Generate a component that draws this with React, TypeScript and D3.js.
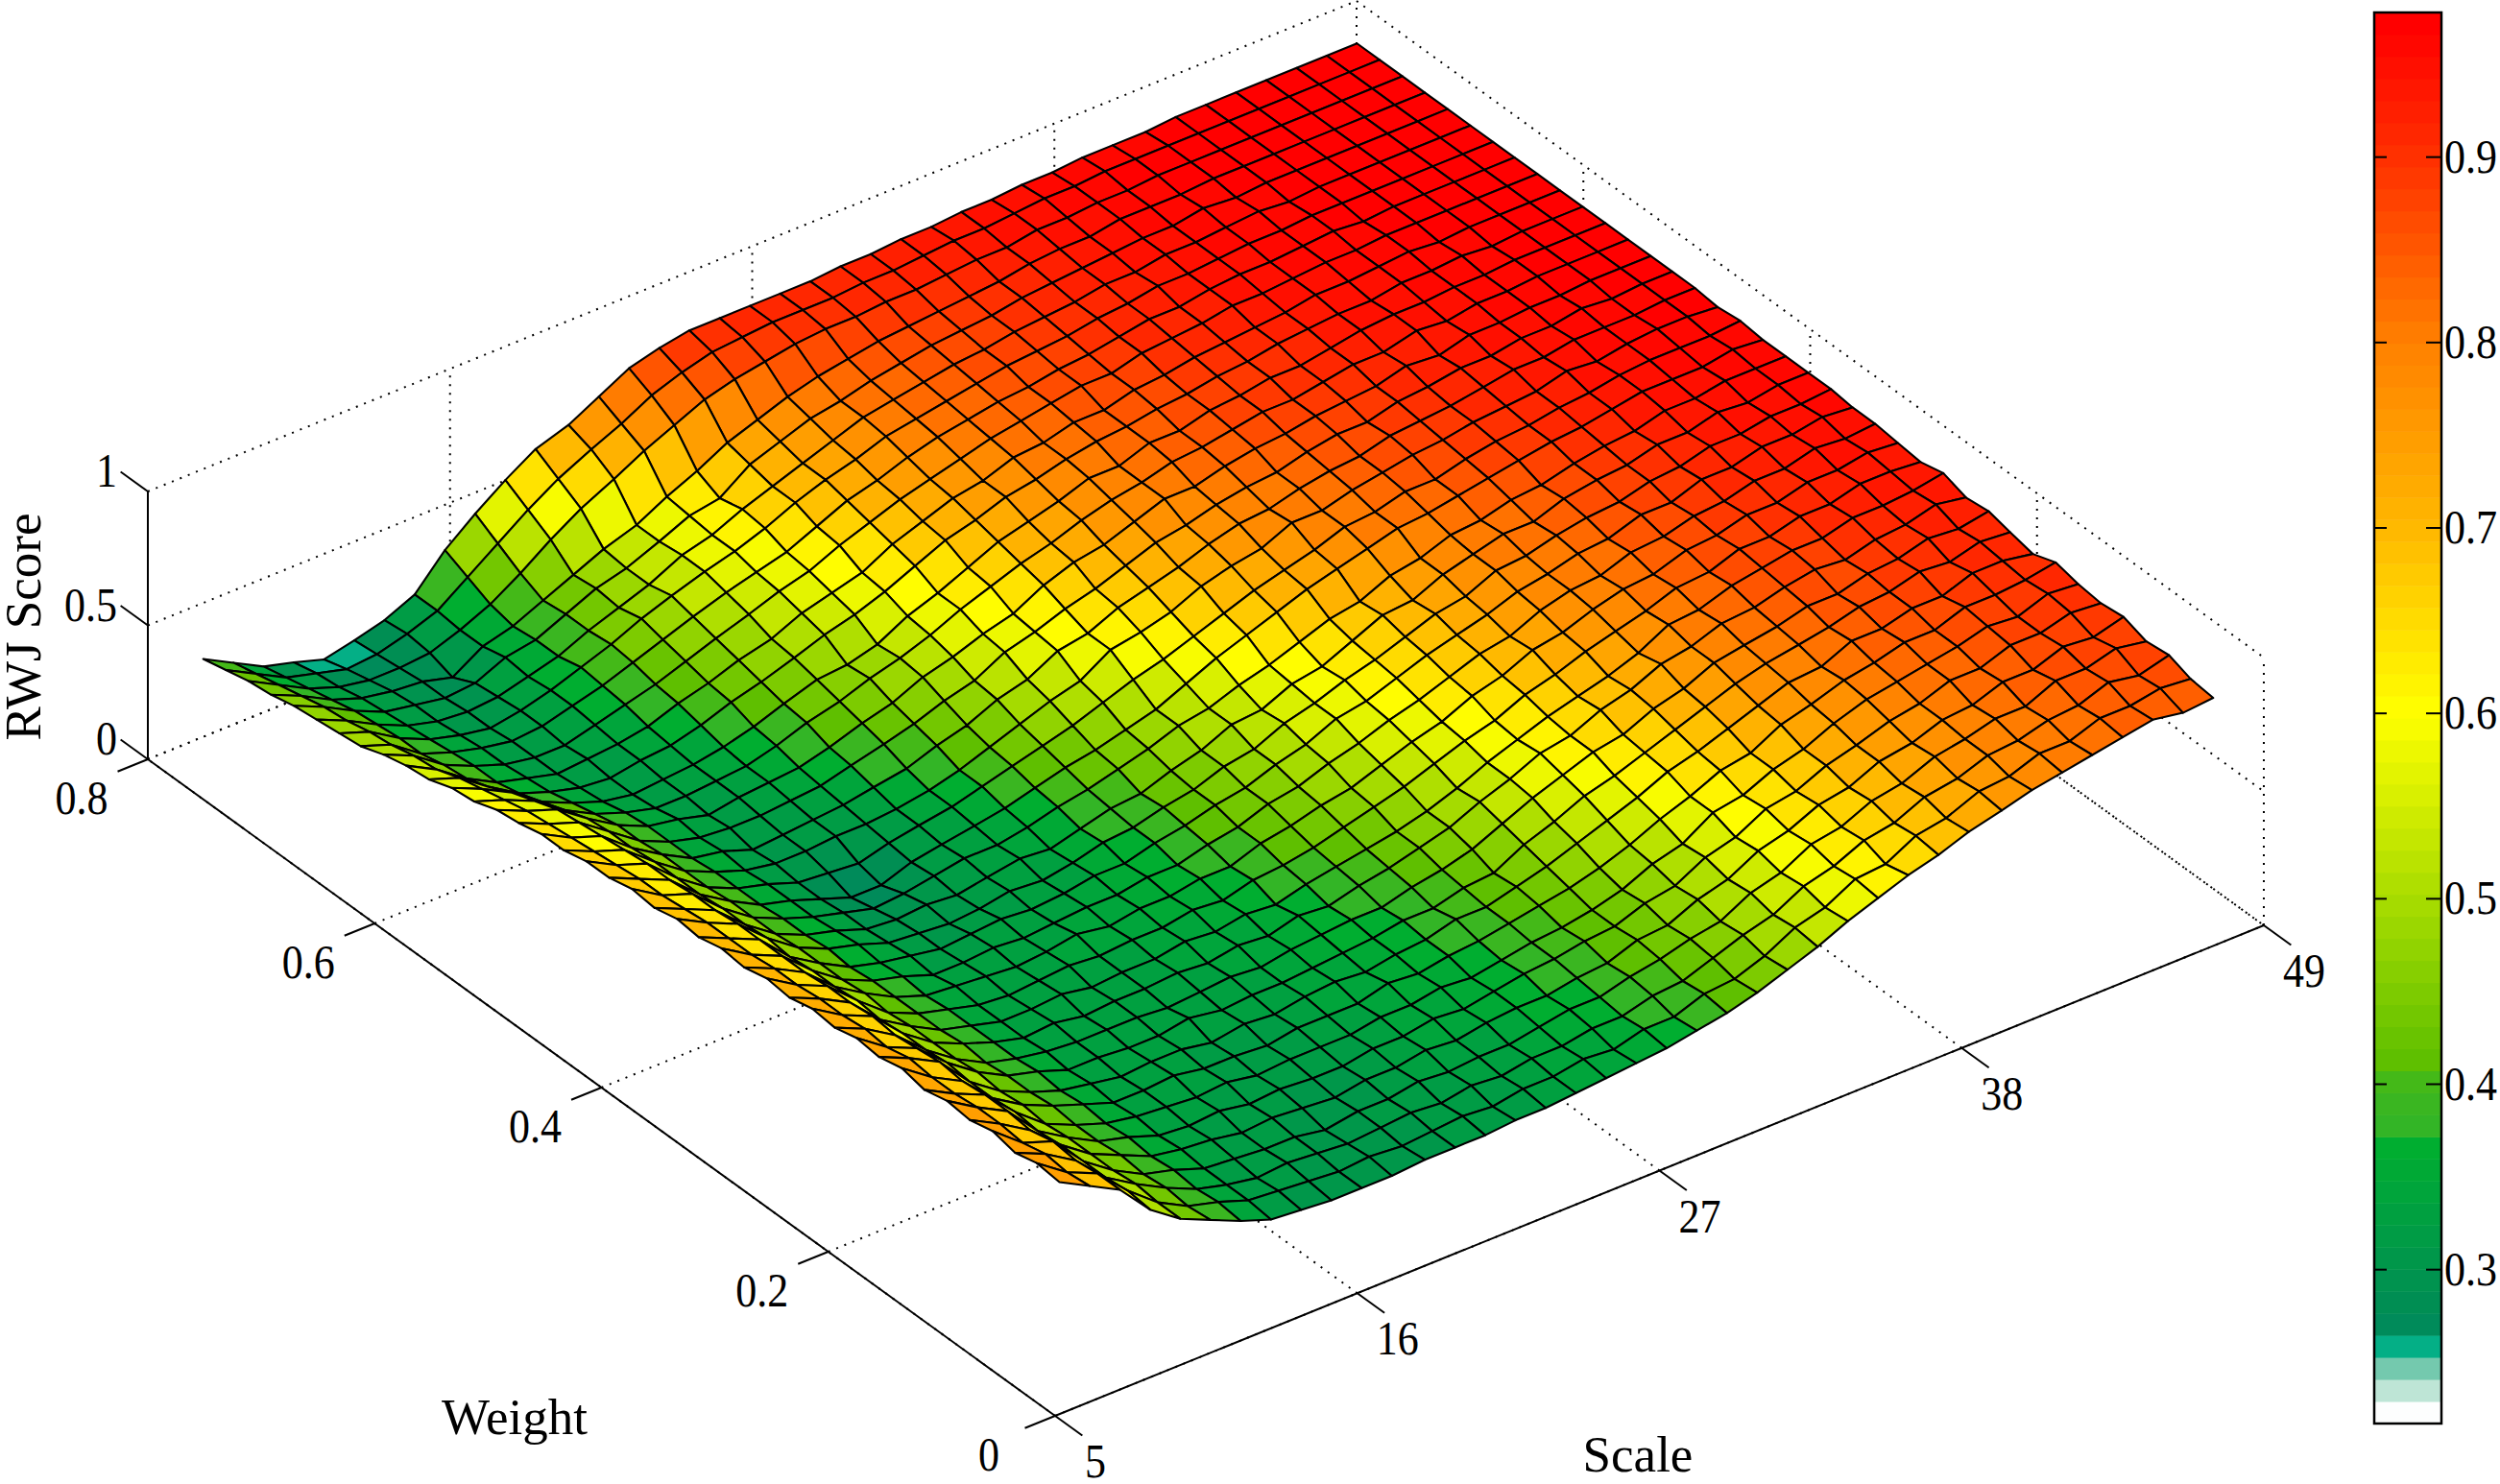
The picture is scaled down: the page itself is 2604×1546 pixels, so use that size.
import * as d3 from "d3";

// Scale 5..49 across, Weight 0..0.8 in depth, RWJ score as height
const scaleTicks = [5, 16, 27, 38, 49];
const weightTicks = [0, 0.2, 0.4, 0.6, 0.8];
const scoreTicks = [0, 0.5, 1];
const barTicks = [0.3, 0.4, 0.5, 0.6, 0.7, 0.8, 0.9];

const scaleGrid = [5.9, 7.0, 8.1, 9.2, 10.3, 11.4, 12.5, 13.6, 14.7, 15.8, 16.9, 18.0, 19.2, 20.3, 21.4, 22.5, 23.6, 24.7, 25.8, 26.9, 28.0, 29.1, 30.2, 31.3, 32.4, 33.5, 34.6, 35.7, 36.8, 37.9, 39.0, 40.2, 41.3, 42.4, 43.5, 44.6, 45.7, 46.8, 47.9];
const weightGrid = [.018, .038, .057, .077, .097, .117, .137, .157, .177, .197, .216, .236, .256, .276, .296, .316, .336, .355, .375, .395, .415, .435, .455, .475, .495, .514, .534, .554, .574, .594, .614, .634, .653, .673, .693, .713, .733, .753, .773];

// one row per weight (near to far), one value per scale
const scores = [
  [.78,.72,.66,.54,.46,.41,.36,.32,.31,.30,.30,.30,.31,.31,.31,.32,.32,.33,.34,.35,.36,.38,.40,.43,.47,.51,.56,.60,.64,.67,.71,.74,.77,.79,.81,.83,.85,.83,.84],
  [.79,.71,.66,.55,.46,.40,.37,.33,.32,.31,.30,.31,.30,.31,.32,.31,.33,.33,.35,.34,.37,.37,.41,.42,.46,.52,.55,.61,.62,.68,.70,.75,.76,.80,.80,.84,.84,.86,.85],
  [.77,.72,.65,.54,.47,.41,.36,.33,.31,.32,.31,.30,.31,.32,.31,.33,.32,.34,.34,.36,.36,.39,.40,.44,.48,.51,.57,.60,.65,.67,.72,.74,.78,.79,.82,.83,.87,.85,.88],
  [.79,.70,.66,.54,.46,.40,.37,.33,.32,.31,.31,.29,.31,.31,.33,.32,.33,.33,.35,.37,.37,.40,.42,.45,.47,.53,.56,.62,.64,.69,.71,.76,.78,.81,.81,.86,.86,.89,.87],
  [.77,.71,.64,.54,.46,.41,.36,.34,.33,.31,.32,.31,.30,.32,.32,.34,.33,.35,.36,.36,.38,.39,.43,.44,.49,.52,.58,.61,.66,.68,.73,.75,.79,.80,.84,.84,.88,.87,.90],
  [.78,.71,.65,.53,.46,.40,.37,.33,.32,.33,.31,.32,.31,.31,.33,.33,.35,.34,.36,.38,.39,.41,.42,.46,.48,.54,.57,.63,.65,.70,.73,.77,.79,.83,.83,.87,.87,.90,.89],
  [.76,.70,.65,.54,.45,.40,.36,.34,.33,.32,.33,.31,.32,.32,.32,.34,.34,.36,.35,.37,.39,.40,.42,.45,.50,.53,.60,.62,.67,.70,.75,.79,.81,.83,.85,.88,.87,.91,.90],
  [.78,.70,.64,.53,.46,.41,.37,.33,.33,.34,.32,.32,.31,.33,.33,.33,.36,.35,.37,.38,.40,.42,.44,.47,.51,.56,.60,.65,.67,.73,.76,.80,.82,.85,.85,.89,.89,.90,.92],
  [.76,.71,.65,.53,.45,.40,.36,.34,.32,.33,.33,.31,.33,.32,.34,.35,.34,.36,.37,.40,.40,.43,.46,.50,.54,.58,.63,.66,.70,.74,.78,.79,.84,.84,.87,.87,.91,.91,.89],
  [.77,.69,.64,.54,.46,.40,.37,.33,.33,.32,.32,.34,.32,.33,.33,.34,.35,.36,.38,.38,.41,.42,.48,.52,.57,.60,.64,.68,.72,.76,.79,.81,.83,.86,.87,.90,.89,.92,.91],
  [.75,.70,.63,.53,.45,.39,.36,.34,.33,.33,.33,.32,.33,.34,.33,.35,.36,.37,.37,.40,.42,.45,.50,.55,.59,.63,.65,.70,.73,.78,.80,.82,.85,.85,.88,.89,.92,.91,.93],
  [.76,.69,.64,.53,.45,.40,.36,.33,.34,.32,.33,.33,.34,.33,.35,.34,.37,.36,.39,.41,.44,.47,.52,.56,.61,.63,.68,.71,.76,.78,.82,.83,.86,.88,.87,.90,.91,.94,.92],
  [.74,.69,.63,.52,.45,.39,.36,.33,.33,.34,.32,.33,.33,.35,.34,.36,.35,.38,.40,.42,.44,.47,.51,.56,.60,.64,.67,.70,.74,.80,.81,.85,.87,.89,.89,.92,.92,.93,.95],
  [.75,.68,.63,.53,.44,.39,.36,.33,.32,.33,.34,.33,.34,.34,.36,.35,.38,.39,.41,.44,.47,.50,.54,.58,.61,.66,.69,.73,.76,.79,.83,.84,.88,.88,.91,.91,.94,.94,.93],
  [.73,.68,.62,.52,.45,.39,.35,.34,.33,.32,.33,.35,.33,.35,.35,.37,.37,.41,.43,.46,.48,.52,.56,.59,.64,.67,.72,.74,.78,.81,.82,.86,.87,.90,.90,.93,.93,.95,.94],
  [.74,.67,.62,.52,.44,.39,.36,.32,.32,.33,.32,.33,.34,.34,.36,.36,.39,.41,.45,.47,.51,.54,.58,.61,.65,.69,.71,.76,.79,.80,.84,.85,.88,.89,.92,.92,.95,.94,.95],
  [.72,.67,.62,.51,.44,.38,.35,.33,.31,.32,.33,.32,.33,.35,.35,.38,.40,.43,.45,.49,.52,.57,.59,.63,.67,.70,.73,.77,.79,.82,.83,.87,.87,.91,.91,.94,.94,.96,.95],
  [.73,.67,.62,.52,.44,.39,.36,.32,.31,.30,.31,.33,.32,.34,.37,.38,.41,.43,.47,.49,.54,.57,.61,.64,.68,.72,.74,.79,.80,.83,.85,.86,.89,.90,.93,.93,.95,.95,.96],
  [.71,.66,.61,.51,.43,.38,.35,.31,.30,.31,.30,.32,.34,.33,.36,.39,.40,.44,.47,.52,.53,.58,.60,.65,.70,.71,.76,.79,.82,.82,.86,.88,.89,.92,.92,.95,.94,.96,.96],
  [.72,.65,.61,.51,.43,.38,.34,.31,.28,.29,.31,.33,.33,.35,.38,.40,.43,.46,.50,.52,.56,.59,.63,.67,.69,.74,.76,.80,.81,.84,.85,.88,.90,.91,.94,.94,.96,.96,.96],
  [.70,.65,.60,.50,.43,.37,.34,.30,.26,.26,.30,.32,.34,.36,.39,.42,.44,.47,.50,.55,.60,.64,.68,.72,.75,.78,.81,.82,.84,.86,.88,.90,.91,.93,.95,.95,.95,.97,.96],
  [.70,.64,.60,.50,.42,.37,.34,.30,.29,.28,.31,.33,.35,.38,.41,.44,.47,.51,.55,.58,.62,.66,.70,.73,.76,.80,.81,.84,.84,.87,.89,.90,.92,.93,.95,.96,.96,.96,.97],
  [.68,.63,.59,.50,.42,.37,.33,.31,.31,.32,.32,.33,.35,.38,.42,.46,.50,.53,.60,.62,.65,.70,.73,.75,.80,.80,.83,.85,.87,.88,.90,.91,.92,.95,.94,.96,.97,.97,.96],
  [.68,.62,.58,.49,.42,.36,.34,.30,.31,.32,.33,.35,.37,.41,.44,.49,.52,.58,.60,.65,.68,.71,.75,.78,.79,.82,.84,.85,.88,.89,.90,.92,.94,.94,.96,.96,.96,.97,.97],
  [.66,.61,.57,.49,.41,.36,.33,.32,.32,.33,.34,.37,.40,.43,.47,.50,.56,.59,.63,.66,.70,.74,.76,.79,.81,.82,.85,.87,.87,.90,.91,.93,.93,.95,.95,.97,.96,.97,.97],
  [.65,.60,.56,.48,.41,.36,.34,.31,.33,.34,.35,.38,.42,.45,.50,.53,.57,.60,.66,.70,.72,.76,.80,.80,.83,.85,.86,.88,.89,.90,.93,.92,.95,.95,.96,.96,.97,.97,.97],
  [.62,.58,.53,.45,.39,.35,.32,.32,.33,.34,.37,.41,.44,.48,.51,.55,.60,.64,.68,.71,.75,.78,.80,.83,.84,.86,.88,.88,.90,.92,.92,.95,.94,.96,.96,.97,.97,.97,.97],
  [.61,.56,.50,.42,.37,.33,.31,.32,.33,.35,.38,.42,.46,.47,.50,.56,.60,.65,.70,.73,.76,.80,.80,.84,.84,.87,.88,.90,.90,.92,.94,.95,.95,.96,.96,.97,.97,.97,.97],
  [.58,.54,.46,.39,.35,.32,.31,.33,.34,.37,.41,.44,.48,.52,.55,.59,.64,.69,.72,.76,.78,.81,.83,.84,.86,.87,.89,.90,.92,.93,.94,.94,.96,.96,.97,.96,.97,.97,.97],
  [.57,.51,.43,.37,.34,.31,.32,.33,.35,.39,.42,.46,.49,.54,.57,.60,.66,.70,.74,.76,.80,.81,.84,.84,.87,.88,.90,.91,.92,.93,.95,.95,.96,.97,.96,.97,.97,.97,.97],
  [.55,.50,.42,.37,.33,.31,.31,.34,.37,.40,.44,.48,.52,.56,.59,.64,.68,.72,.75,.78,.81,.83,.85,.87,.87,.90,.91,.92,.94,.94,.95,.96,.96,.97,.97,.97,.97,.97,.97],
  [.52,.48,.40,.36,.33,.31,.32,.35,.38,.42,.46,.50,.54,.57,.60,.65,.70,.73,.77,.80,.82,.84,.85,.87,.88,.90,.92,.92,.94,.95,.95,.96,.97,.96,.97,.97,.97,.97,.97],
  [.51,.47,.40,.35,.32,.30,.32,.35,.39,.43,.48,.52,.56,.59,.63,.68,.72,.75,.79,.81,.83,.85,.87,.88,.89,.91,.92,.94,.94,.95,.96,.96,.97,.97,.97,.97,.97,.97,.97],
  [.50,.45,.39,.34,.31,.30,.31,.34,.37,.42,.46,.50,.56,.59,.64,.68,.72,.76,.80,.82,.84,.86,.87,.89,.90,.91,.93,.93,.95,.95,.96,.97,.96,.97,.97,.97,.97,.97,.97],
  [.49,.44,.38,.33,.31,.29,.30,.35,.37,.42,.47,.50,.55,.60,.62,.70,.74,.78,.80,.83,.85,.87,.88,.89,.91,.92,.93,.94,.95,.95,.97,.96,.97,.97,.97,.97,.97,.97,.97],
  [.47,.42,.36,.32,.30,.29,.26,.33,.36,.41,.46,.51,.55,.61,.66,.72,.76,.80,.83,.85,.87,.88,.89,.90,.91,.93,.94,.94,.96,.96,.96,.97,.97,.97,.97,.97,.97,.97,.97],
  [.46,.40,.34,.30,.28,.28,.29,.33,.38,.45,.53,.60,.66,.72,.77,.82,.85,.87,.89,.90,.90,.91,.91,.92,.93,.93,.95,.95,.96,.96,.97,.97,.97,.97,.97,.97,.97,.97,.97],
  [.44,.38,.32,.29,.26,.27,.30,.34,.42,.50,.58,.65,.71,.76,.82,.86,.89,.90,.91,.91,.91,.92,.92,.93,.94,.94,.95,.96,.96,.97,.97,.97,.97,.97,.97,.97,.97,.97,.97],
  [.42,.36,.30,.27,.235,.26,.29,.34,.46,.55,.63,.70,.74,.80,.86,.89,.91,.91,.91,.91,.91,.92,.92,.93,.93,.94,.94,.95,.95,.96,.96,.96,.97,.97,.97,.97,.97,.97,.97],
];

// colormap anchors
const colorValues = [0.2225, 0.235, 0.247, 0.259, 0.271, 0.33, 0.366, 0.372, 0.4, 0.41, 0.5, 0.6, 0.7, 0.8, 0.9, 0.97];
const colorHexes = ["#ffffff", "#bde5d5", "#72c8ad", "#00ae85", "#008a58", "#00a040", "#00ae30", "#30b428", "#40b81c", "#5cbe00", "#a8dc00", "#ffff00", "#ffb800", "#ff8000", "#ff3000", "#ff0000"];
const BAR_MIN = 0.217;
const BAR_MAX = 0.978;
const LEVELS = 64;

const serif = "'Liberation Serif', 'Times New Roman', serif";

// projection of the box onto the page
const ORIGIN = [1099, 1475];
const S_VEC = [1259, -511];
const W_VEC = [-945, -684];
const Z_VEC = [0, -279];
const sFrac = d3.scaleLinear().domain([5, 49]).range([0, 1]);
const wFrac = d3.scaleLinear().domain([0, 0.8]).range([0, 1]);
const zFrac = d3.scaleLinear().domain([0, 1]).range([0, 1]);

function project(scale: number, weight: number, score: number): [number, number] {
  const s = sFrac(scale);
  const w = wFrac(weight);
  const z = zFrac(score);
  return [
    ORIGIN[0] + s * S_VEC[0] + w * W_VEC[0] + z * Z_VEC[0],
    ORIGIN[1] + s * S_VEC[1] + w * W_VEC[1] + z * Z_VEC[1],
  ];
}

const ramp = d3.scaleLinear<string>().domain(colorValues).range(colorHexes).interpolate(d3.interpolateRgb).clamp(true);
const levelIndex = d3.scaleQuantize<number>().domain([BAR_MIN, BAR_MAX]).range(d3.range(LEVELS));
const levelColor = (k: number) => ramp(BAR_MIN + ((k + 0.5) * (BAR_MAX - BAR_MIN)) / LEVELS);

const pathOf = d3.line();

const BAR_LEFT = 2473;
const BAR_RIGHT = 2543;
const BAR_TOP = 13;
const BAR_BOTTOM = 1483;
const barY = d3.scaleLinear().domain([BAR_MIN, BAR_MAX]).range([BAR_BOTTOM, BAR_TOP]);

function Dotted({ a, b }: { a: [number, number]; b: [number, number] }) {
  return <line x1={a[0]} y1={a[1]} x2={b[0]} y2={b[1]} stroke="#000" strokeWidth={2} strokeDasharray="2 7" />;
}

function Solid({ a, b, w = 2 }: { a: [number, number]; b: [number, number]; w?: number }) {
  return <line x1={a[0]} y1={a[1]} x2={b[0]} y2={b[1]} stroke="#000" strokeWidth={w} />;
}

// the tick digits in the reference are a little taller than wide
function TallText({ x, y, anchor, children }: { x: number; y: number; anchor: string; children: any }) {
  return (
    <text transform={`translate(${x},${y}) scale(1,1.15)`} textAnchor={anchor} fontSize={44} fill="#000">
      {children}
    </text>
  );
}

export default function App() {
  const sMin = scaleTicks[0];
  const sMax = scaleTicks[scaleTicks.length - 1];
  const wMin = weightTicks[0];
  const wMax = weightTicks[weightTicks.length - 1];

  // far cells first so the near ones paint over them
  const cells: { d: string; fill: string; key: string }[] = [];
  for (let j = weightGrid.length - 2; j >= 0; j--) {
    for (let i = scaleGrid.length - 2; i >= 0; i--) {
      const corners: [number, number][] = [
        project(scaleGrid[i], weightGrid[j], scores[j][i]),
        project(scaleGrid[i + 1], weightGrid[j], scores[j][i + 1]),
        project(scaleGrid[i + 1], weightGrid[j + 1], scores[j + 1][i + 1]),
        project(scaleGrid[i], weightGrid[j + 1], scores[j + 1][i]),
      ];
      const mean = (scores[j][i] + scores[j][i + 1] + scores[j + 1][i + 1] + scores[j + 1][i]) / 4;
      cells.push({ d: pathOf(corners) + "Z", fill: levelColor(levelIndex(mean)), key: `${i}-${j}` });
    }
  }

  return (
    <svg width={2604} height={1546} viewBox="0 0 2604 1546" style={{ position: "absolute", left: 0, top: 0, background: "#fff" }} fontFamily={serif}>
      {/* box grid behind the surface */}
      <g>
        {scaleTicks.map((t) => (
          <g key={`s${t}`}>
            <Dotted a={project(t, wMin, 0)} b={project(t, wMax, 0)} />
            <Dotted a={project(t, wMax, 0)} b={project(t, wMax, 1)} />
          </g>
        ))}
        {weightTicks.map((t) => (
          <g key={`w${t}`}>
            <Dotted a={project(sMin, t, 0)} b={project(sMax, t, 0)} />
            <Dotted a={project(sMax, t, 0)} b={project(sMax, t, 1)} />
          </g>
        ))}
        {scoreTicks.map((t) => (
          <g key={`z${t}`}>
            <Dotted a={project(sMin, wMax, t)} b={project(sMax, wMax, t)} />
            <Dotted a={project(sMax, wMax, t)} b={project(sMax, wMin, t)} />
          </g>
        ))}
      </g>

      {/* axes */}
      <Solid a={project(sMin, wMin, 0)} b={project(sMax, wMin, 0)} />
      <Solid a={project(sMin, wMin, 0)} b={project(sMin, wMax, 0)} />
      <Solid a={project(sMin, wMax, 0)} b={project(sMin, wMax, 1)} />
      {scaleTicks.map((t) => (
        <Solid key={t} a={project(t, wMin, 0)} b={project(t, wMin - 0.024, 0)} />
      ))}
      {weightTicks.map((t) => (
        <Solid key={t} a={project(sMin, t, 0)} b={project(sMin - 1.1, t, 0)} />
      ))}
      {scoreTicks.map((t) => (
        <Solid key={t} a={project(sMin, wMax, t)} b={project(sMin, wMax + 0.024, t)} />
      ))}

      {/* surface */}
      <g stroke="#000" strokeWidth={2.1} strokeLinejoin="round">
        {cells.map((c) => (
          <path key={c.key} d={c.d} fill={c.fill} />
        ))}
      </g>

      {/* tick labels */}
      {scaleTicks.map((t) => {
        const [x, y] = project(t, wMin, 0);
        return (
          <TallText key={t} x={x + 42} y={y + 64} anchor="middle">
            {t}
          </TallText>
        );
      })}
      {weightTicks.map((t) => {
        const [x, y] = project(sMin, t, 0);
        return (
          <TallText key={t} x={x - 69} y={y + 57} anchor="middle">
            {t}
          </TallText>
        );
      })}
      {scoreTicks.map((t) => {
        const [x, y] = project(sMin, wMax, t);
        return (
          <TallText key={t} x={x - 32} y={y - 5} anchor="end">
            {t}
          </TallText>
        );
      })}

      {/* axis titles */}
      <g fontSize={53} textAnchor="middle" fill="#000">
        <text x={536} y={1494}>Weight</text>
        <text x={1706} y={1533}>Scale</text>
        <text transform="translate(42,653) rotate(-90)">RWJ Score</text>
      </g>

      {/* colorbar */}
      <g>
        {d3.range(LEVELS).map((k) => (
          <rect
            key={k}
            x={BAR_LEFT}
            y={barY(BAR_MIN + ((k + 1) * (BAR_MAX - BAR_MIN)) / LEVELS)}
            width={BAR_RIGHT - BAR_LEFT}
            height={(BAR_BOTTOM - BAR_TOP) / LEVELS + 0.5}
            fill={levelColor(k)}
          />
        ))}
        <rect x={BAR_LEFT} y={BAR_TOP} width={BAR_RIGHT - BAR_LEFT} height={BAR_BOTTOM - BAR_TOP} fill="none" stroke="#000" strokeWidth={2.5} />
        {barTicks.map((t) => (
          <g key={t}>
            <line x1={BAR_LEFT} x2={BAR_LEFT + 13} y1={barY(t)} y2={barY(t)} stroke="#000" strokeWidth={2} />
            <line x1={BAR_RIGHT - 16} x2={BAR_RIGHT} y1={barY(t)} y2={barY(t)} stroke="#000" strokeWidth={2} />
            <TallText x={BAR_RIGHT + 3} y={barY(t) + 16} anchor="start">
              {t}
            </TallText>
          </g>
        ))}
      </g>
    </svg>
  );
}
